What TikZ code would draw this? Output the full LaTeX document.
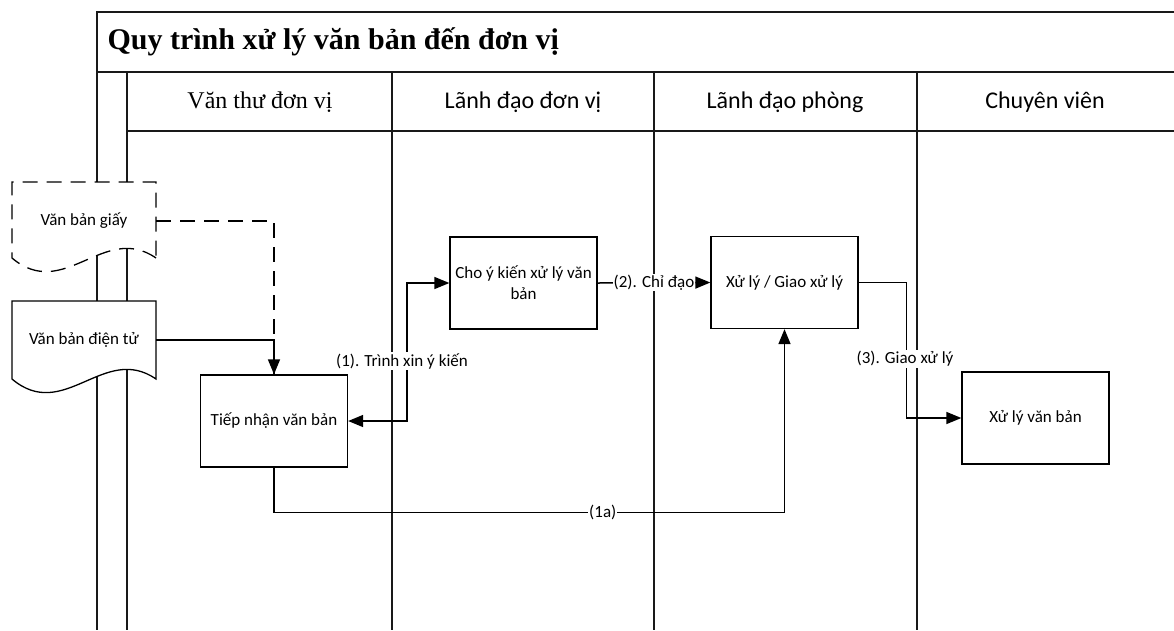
\documentclass[tikz,border=0pt]{standalone}
\usepackage{fontspec}
\setmainfont{Carlito}
\newfontfamily\seriffont{Liberation Serif}
\usetikzlibrary{arrows.meta}

\begin{document}
\begin{tikzpicture}[
    x=1pt, y=-1pt,
    lane/.style={line width=1.1pt, draw=black!90},
    box/.style={rectangle, draw, line width=1.3pt, fill=white, minimum width=147pt, minimum height=92pt, font=\fontsize{17}{21}\selectfont, align=center},
    docnode/.style={minimum width=144pt, minimum height=76pt, font=\fontsize{17}{21}\selectfont},
    head/.style={font=\fontsize{24}{28}\selectfont},
    lbl/.style={fill=white, inner sep=1pt, font=\fontsize{17}{21}\selectfont},
    arrow/.style={-{Triangle[length=15pt, width=12pt]}, line width=1.5pt},
    paperline/.style={line width=1.5pt, dash pattern=on 15pt off 9pt}
]
    \useasboundingbox (0,0) rectangle (1174,630);

    % Pool and lanes
    \draw[lane] (1174,12) -- (97,12) -- (97,630);
    \draw[lane] (97,72) -- (1174,72);
    \draw[lane] (127,72) -- (127,630);
    \draw[lane] (127,131) -- (1174,131);
    \foreach \x in {392,654,917}
        \draw[lane] (\x,72) -- (\x,630);

    % Title and lane headers
    \node[anchor=west, font=\seriffont\bfseries\fontsize{30}{34}\selectfont] (title) at (104,42) {Quy trình xử lý văn bản đến đơn vị};
    \node[font=\seriffont\fontsize{24}{28}\selectfont] (h1) at (260,102) {Văn thư đơn vị};
    \node[head] (h2) at (523,102) {Lãnh đạo đơn vị};
    \node[head] (h3) at (785,102) {Lãnh đạo phòng};
    \node[head] (h4) at (1045,102) {Chuyên viên};

    % Input documents
    \filldraw[fill=white, line width=1.3pt, dash pattern=on 15pt off 9pt] (156,258) .. controls (104,222) and (64,302) .. (12,258) -- (12,182) -- (156,182) -- cycle;
    \filldraw[fill=white, line width=1.3pt] (156,379) .. controls (104,343) and (64,423) .. (12,379) -- (12,301) -- (156,301) -- cycle;
    \node[docnode] (paper) at (84,221) {Văn bản giấy};
    \node[docnode] (edoc) at (84,340) {Văn bản điện tử};

    % Steps
    \node[box] (recv) at (274,421) {Tiếp nhận văn bản};
    \node[box] (opinion) at (523.5,283) {Cho ý kiến xử lý văn\\bản};
    \node[box] (handle) at (784.5,282.5) {Xử lý / Giao xử lý};
    \node[box] (worker) at (1035.5,418) {Xử lý văn bản};

    % Connectors
    \draw[paperline] (paper.east) -| (recv.north);
    \draw[arrow] (edoc.east) -| (recv.north);
    \draw[arrow, {Triangle[length=15pt, width=12pt]}-{Triangle[length=15pt, width=12pt]}] (recv.east) -- ++(59,0) |- (opinion.west);
    \node[lbl] (l1) at (402,361) {(1). Trình xin ý kiến};
    \draw[arrow] (opinion.east) -- node[lbl] (l2) {(2). Chỉ đạo} (handle.west);
    \draw[arrow] (handle.east) -- ++(48,0) |- (worker.west);
    \node[lbl] (l3) at (905,359) {(3). Giao xử lý};
    \draw[arrow] (recv.south) -- ++(0,45) -| node[lbl, pos=0.322] (l1a) {(1a)} (handle.south);

\end{tikzpicture}
\end{document}
